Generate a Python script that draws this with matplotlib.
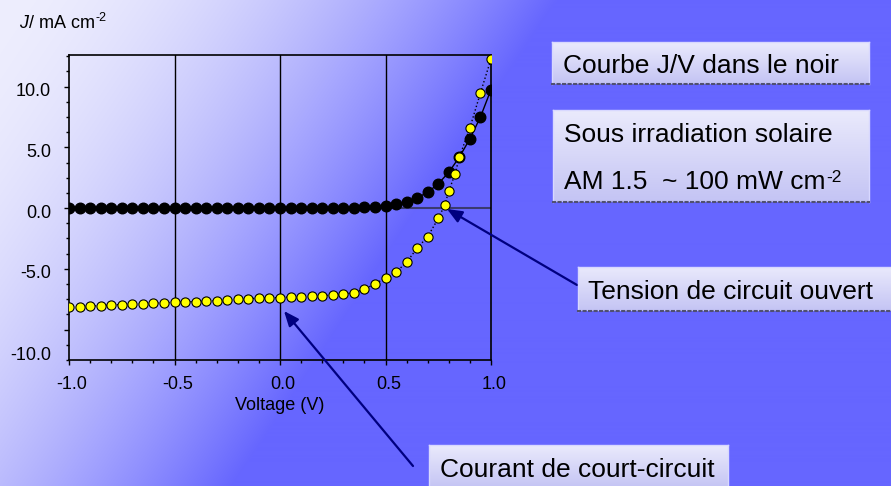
import numpy as np
import matplotlib
matplotlib.use("Agg")
import matplotlib.pyplot as plt
from matplotlib.patches import FancyArrowPatch, ArrowStyle
from matplotlib.ticker import MultipleLocator
from matplotlib.transforms import ScaledTranslation

plt.rcParams['font.family'] = ['Liberation Sans', 'DejaVu Sans']
plt.rcParams['mathtext.fontset'] = 'custom'
plt.rcParams['mathtext.rm'] = 'Liberation Sans'
plt.rcParams['mathtext.it'] = 'Liberation Sans:italic'

# ======= data =======
# dark J/V curve (mA cm-2)
v_dark = [-1.0, -0.95, -0.9, -0.85, -0.8, -0.75, -0.7, -0.65, -0.6, -0.55,
          -0.5, -0.45, -0.4, -0.35, -0.3, -0.25, -0.2, -0.15, -0.1, -0.05,
          0.0, 0.05, 0.1, 0.15, 0.2, 0.25, 0.3, 0.35, 0.4, 0.45,
          0.5, 0.55, 0.6, 0.65, 0.7, 0.75, 0.8, 0.85, 0.9, 0.95, 1.0]
j_dark = [0.0, 0.0, 0.0, 0.0, 0.0, 0.0, 0.0, 0.0, 0.0, 0.0,
          0.0, 0.0, 0.0, 0.0, 0.0, 0.0, 0.0, 0.0, 0.0, 0.0,
          0.0, 0.0, 0.0, 0.0, 0.0, 0.0, 0.0, 0.0, 0.05, 0.1,
          0.2, 0.35, 0.5, 0.85, 1.3, 2.0, 2.95, 4.2, 5.7, 7.5, 9.75]

# J/V under AM 1.5 illumination
v_light = [-1.0, -0.95, -0.9, -0.85, -0.8, -0.75, -0.7, -0.65, -0.6, -0.55,
           -0.5, -0.45, -0.4, -0.35, -0.3, -0.25, -0.2, -0.15, -0.1, -0.05,
           0.0, 0.05, 0.1, 0.15, 0.2, 0.25, 0.3, 0.35, 0.4, 0.45,
           0.5, 0.55, 0.6, 0.65, 0.7, 0.75, 0.78, 0.8, 0.83, 0.85,
           0.9, 0.95, 1.0]
j_light = [-8.13, -8.1, -8.05, -8.04, -7.97, -7.94, -7.91, -7.86, -7.81, -7.8,
           -7.75, -7.72, -7.69, -7.66, -7.61, -7.56, -7.5, -7.44, -7.42, -7.39,
           -7.36, -7.31, -7.3, -7.25, -7.2, -7.15, -7.09, -6.95, -6.68, -6.24,
           -5.75, -5.26, -4.46, -3.29, -2.35, -0.85, 0.22, 1.4, 2.83, 4.19,
           6.61, 9.48, 12.27]

yticks = [10.0, 5.0, 0.0, -5.0, -10.0]
ytick_labels = ['10.0', '5.0', '0.0', '-5.0', '-10.0']
xticks = [-1.0, -0.5, 0.0, 0.5, 1.0]
xtick_labels = ['-1.0', '-0.5', '0.0', '0.5', '1.0']

W, H = 891, 486
fig = plt.figure(figsize=(W / 100, H / 100), dpi=100)
renderer = fig.canvas.get_renderer()


def text_with_sup(xp, yp, base, sup, size, sup_size, rise, zorder=6):
    # base text at pixel (xp, yp baseline, from top), superscript right after it
    t = fig.text(xp / W, 1 - yp / H, base, fontsize=size, va='baseline',
                 ha='left', zorder=zorder)
    if sup:
        bb = t.get_window_extent(renderer)
        fig.text(bb.x1 / W + 1 / W, 1 - (yp - rise) / H, sup, fontsize=sup_size,
                 va='baseline', ha='left', zorder=zorder)


# ======= background gradient =======
yy, xx = np.mgrid[0:H, 0:W]
t = np.clip((xx + 0.67 * yy) / 557.0, 0, 1) ** 1.8
light = np.array([238, 238, 253]) / 255
blue = np.array([102, 102, 255]) / 255
grad = light[None, None, :] * (1 - t[..., None]) + blue[None, None, :] * t[..., None]
bg = fig.add_axes([0, 0, 1, 1], zorder=-10)
bg.imshow(grad, aspect='auto', extent=(0, W, H, 0))
bg.axis('off')

# ======= main plot =======
ax = fig.add_axes([69 / W, 126 / H, 422 / W, 305 / H])
ax.set_facecolor('none')
ax.set_xlim(-1.0, 1.0)
ax.set_ylim(-12.5, 12.6)

for xv in [-0.5, 0.0, 0.5]:
    ax.axvline(xv, color='black', lw=1, zorder=1)
ax.axhline(0, color='#3a3a70', lw=1.5, zorder=1)

ax.plot(v_dark, j_dark, '-', color='black', lw=1, marker='o', ms=7.6,
        mfc='black', mec='black', zorder=3)
ax.plot(v_light, j_light, ':', color='black', lw=1, marker='o', ms=6.6,
        mfc='#ffff00', mec='black', mew=0.8, zorder=4)

for s in ax.spines.values():
    s.set_color('black')
    s.set_linewidth(1.2)

ax.set_xticks(xticks)
ax.set_xticklabels(xtick_labels)
ax.xaxis.set_minor_locator(MultipleLocator(0.1))
ax.set_yticks(yticks)
ax.set_yticklabels([])
ax.yaxis.set_minor_locator(MultipleLocator(1.25))
ax.tick_params(axis='both', which='major', direction='out', length=3.5, width=1,
               labelsize=13, colors='black', pad=8)
ax.tick_params(axis='both', which='minor', direction='out', length=2.5, width=1)
for lbl in ax.get_xticklabels():
    lbl.set_transform(lbl.get_transform() + ScaledTranslation(0.03, 0, fig.dpi_scale_trans))

# y tick labels sit a little below their ticks
for v, s in zip(yticks, ytick_labels):
    dy = -26 if v == -10.0 else -5
    off = ScaledTranslation(-18 / 100, dy / 100, fig.dpi_scale_trans)
    ax.text(0, v, s, transform=ax.get_yaxis_transform() + off,
            ha='right', va='center', fontsize=13)

ax.set_xlabel('Voltage (V)', fontsize=13, labelpad=3)
text_with_sup(19, 28.3, r'$\mathit{J}$/ mA cm', '-2', 13, 9, 7)


# ======= text boxes =======
def label_box(x0, y0, x1, y1, lines, size=19):
    bax = fig.add_axes([x0 / W, 1 - y1 / H, (x1 - x0) / W, (y1 - y0) / H], zorder=5)
    col = np.linspace(0, 1, 50)[:, None, None]
    top = np.array([234, 234, 252]) / 255
    bot = np.array([196, 196, 244]) / 255
    bax.imshow(top * (1 - col) + bot * col, aspect='auto', extent=(0, 1, 0, 1))
    bax.set_xticks([])
    bax.set_yticks([])
    for side in ['top', 'left', 'right']:
        bax.spines[side].set_color('#d8d8ff')
        bax.spines[side].set_linewidth(1)
    bax.spines['bottom'].set_color('#505070')
    bax.spines['bottom'].set_linestyle(':')
    bax.spines['bottom'].set_linewidth(1.5)
    for txt, sup, xl, yb in lines:
        text_with_sup(xl, yb, txt, sup, size, 12.5, 7)


label_box(552, 42, 869, 84, [('Courbe J/V dans le noir', '', 563, 73.3)])
label_box(553, 110, 869, 202, [('Sous irradiation solaire', '', 564, 141.7),
                               ('AM 1.5  ~ 100 mW cm', '-2', 564, 189.3)])
label_box(578, 267, 893, 311, [('Tension de circuit ouvert', '', 588, 299)])
label_box(429, 445, 728, 488, [('Courant de court-circuit', '', 440, 476.7)])

# ======= arrows =======
style = ArrowStyle('-|>', head_length=0.6, head_width=0.25)
for (xa, ya), (xb, yb) in [((577, 285), (447, 209)), ((413, 466), (284, 311))]:
    arr = FancyArrowPatch((xa / W, 1 - ya / H), (xb / W, 1 - yb / H),
                          transform=fig.transFigure, arrowstyle=style,
                          mutation_scale=15, color='#000080', lw=1.6,
                          shrinkA=0, shrinkB=0, zorder=4)
    fig.add_artist(arr)

fig.savefig('out.png', dpi=100)
